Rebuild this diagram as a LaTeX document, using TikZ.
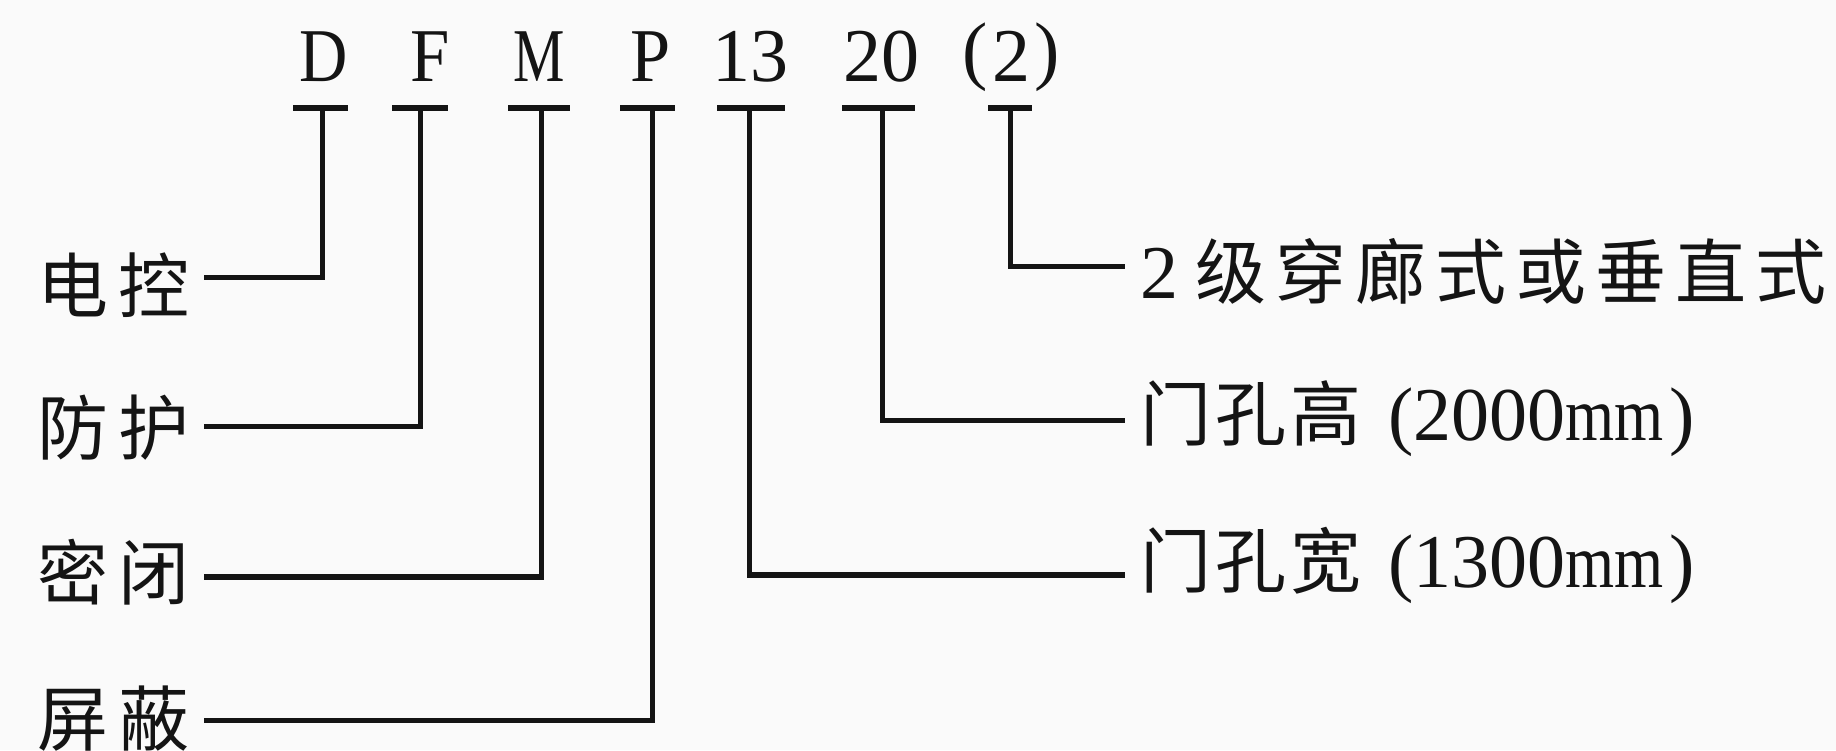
\documentclass[tikz,border=0pt]{standalone}
\usepackage{fontspec}
\usepackage{graphicx}
\setmainfont{Liberation Serif}
\newfontfamily\cjkfont{Noto Sans CJK SC}
\definecolor{ink}{HTML}{141414}
\definecolor{paper}{HTML}{FAFAFA}
\newcommand{\Lt}{\rmfamily\fontsize{76}{80}\selectfont}
\newcommand{\Ck}{\cjkfont\fontsize{71}{80}\selectfont}
\newcommand{\gp}[1]{\hspace{#1pt}}
\newcommand{\nx}[2]{\scalebox{#1}[1]{#2}}
\begin{document}
\begin{tikzpicture}[x=1pt,y=1pt,
  code/.style={inner sep=0pt, anchor=base, font=\Lt, text=ink},
  lab/.style={inner sep=0pt, font=\Ck, text=ink},
  conn/.style={line width=5pt, draw=ink},
  tbar/.style={line width=6pt, draw=ink}]
\fill[paper] (0,0) rectangle (1836,750);
\useasboundingbox (0,0) rectangle (1836,750);

% code letters
\node[code] (cD) at (324,668) {\nx{0.88}{D}};
\node[code] (cF) at (430,668) {\nx{0.93}{F}};
\node[code] (cM) at (539,668) {\nx{0.76}{M}};
\node[code] (cP) at (651,668) {\nx{0.95}{P}};
\node[code] (c13) at (750,668) {13};
\node[code] (c20) at (881,668) {20};
\node[code] (c2) at (1011,668) {\raisebox{6pt}{(}\gp{4}2\gp{4}\raisebox{6pt}{)}};

% T tops
\coordinate (tD) at (322,642);
\coordinate (tF) at (420,642);
\coordinate (tM) at (541,642);
\coordinate (tP) at (652,642);
\coordinate (t13) at (749,642);
\coordinate (t20) at (882,642);
\coordinate (t2) at (1010,642);
\draw[tbar] ([xshift=-29pt]tD) -- ([xshift=26pt]tD);
\draw[tbar] ([xshift=-28pt]tF) -- ([xshift=28pt]tF);
\draw[tbar] ([xshift=-33pt]tM) -- ([xshift=29pt]tM);
\draw[tbar] ([xshift=-32pt]tP) -- ([xshift=23pt]tP);
\draw[tbar] ([xshift=-32pt]t13) -- ([xshift=36pt]t13);
\draw[tbar] ([xshift=-40pt]t20) -- ([xshift=33pt]t20);
\draw[tbar] ([xshift=-22pt]t2) -- ([xshift=22pt]t2);

% left labels
\node[lab, anchor=base east] (lD) at (190,437) {电\gp{10}控};
\node[lab, anchor=base east] (lF) at (190,295) {防\gp{10}护};
\node[lab, anchor=base east] (lM) at (190,151) {密\gp{10}闭};
\node[lab, anchor=base east] (lP) at (190,5) {屏\gp{10}蔽};

% right labels
\node[lab, anchor=base west] (r2) at (1140,451) {{\Lt 2}\gp{17}级\gp{9}穿\gp{9}廊\gp{9}式\gp{9}或\gp{9}垂\gp{9}直\gp{9}式};
\node[lab, anchor=base west] (r20) at (1140,309) {门\gp{4}孔\gp{4}高\gp{27}{\Lt (2000\nx{0.83}{mm}\gp{6})}};
\node[lab, anchor=base west] (r13) at (1140,163) {门\gp{4}孔\gp{4}宽\gp{27}{\Lt (1300\nx{0.83}{mm}\gp{6})}};

% connectors
\draw[conn] (tD) |- ([xshift=14pt,yshift=35pt]lD.base east);
\draw[conn] (tF) |- ([xshift=14pt,yshift=28pt]lF.base east);
\draw[conn] (tM) |- ([xshift=14pt,yshift=22pt]lM.base east);
\draw[conn] (tP) |- ([xshift=14pt,yshift=25pt]lP.base east);
\draw[conn] (t2) |- ([xshift=-15pt,yshift=32pt]r2.base west);
\draw[conn] (t20) |- ([xshift=-15pt,yshift=20pt]r20.base west);
\draw[conn] (t13) |- ([xshift=-15pt,yshift=12pt]r13.base west);
\end{tikzpicture}
\end{document}
